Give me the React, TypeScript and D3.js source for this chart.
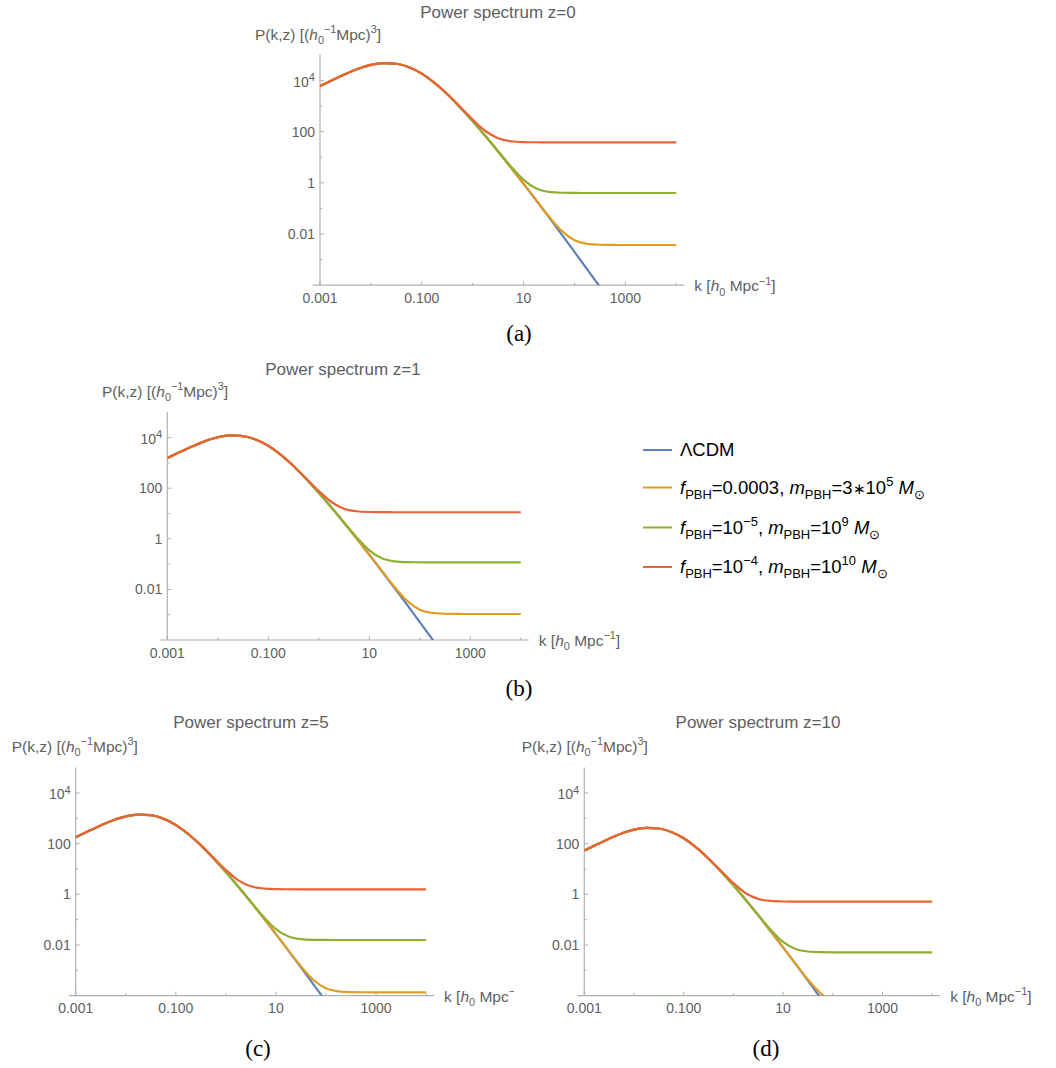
import React from 'react';
import * as d3 from 'd3';

// log10(k) sample points, k in h0 Mpc^-1
const logK = [-3, -2.75, -2.5, -2.25, -2, -1.75, -1.5, -1.25, -1, -0.75, -0.5, -0.25, 0, 0.25, 0.5, 0.75, 1, 1.25, 1.5, 1.75, 2, 2.25, 2.5, 2.75, 3, 3.25, 3.5, 3.75, 4];

// log10 P(k,z)
// z = 0
const lcdmA = [3.779, 4.019, 4.248, 4.452, 4.605, 4.676, 4.650, 4.516, 4.266, 3.905, 3.460, 2.956, 2.408, 1.828, 1.223, 0.598, -0.041, -0.693, -1.354, -2.023, -2.700, -3.382, -4.068, -4.760];
const orangeA = [3.779, 4.019, 4.248, 4.452, 4.605, 4.676, 4.650, 4.516, 4.266, 3.905, 3.460, 2.956, 2.408, 1.828, 1.223, 0.598, -0.039, -0.685, -1.319, -1.879, -2.243, -2.384, -2.420, -2.428, -2.430, -2.430, -2.430, -2.430, -2.430];
const greenA = [3.779, 4.019, 4.248, 4.452, 4.605, 4.676, 4.650, 4.516, 4.266, 3.905, 3.460, 2.956, 2.409, 1.831, 1.233, 0.640, 0.117, -0.220, -0.352, -0.388, -0.396, -0.398, -0.398, -0.398, -0.398, -0.398, -0.398, -0.398, -0.398];
const redA = [3.779, 4.019, 4.248, 4.452, 4.605, 4.676, 4.650, 4.516, 4.267, 3.907, 3.466, 2.974, 2.468, 2.023, 1.739, 1.624, 1.591, 1.583, 1.582, 1.581, 1.581, 1.581, 1.581, 1.581, 1.581, 1.581, 1.581, 1.581, 1.581];
// z = 1
const lcdmB = [3.189, 3.429, 3.658, 3.862, 4.015, 4.086, 4.060, 3.926, 3.676, 3.315, 2.870, 2.366, 1.818, 1.238, 0.633, 0.008, -0.631, -1.283, -1.944, -2.613, -3.290, -3.972, -4.658];
const orangeB = [3.189, 3.429, 3.658, 3.862, 4.015, 4.086, 4.060, 3.926, 3.676, 3.315, 2.870, 2.366, 1.818, 1.238, 0.633, 0.008, -0.629, -1.274, -1.905, -2.455, -2.801, -2.931, -2.963, -2.970, -2.972, -2.972, -2.972, -2.972, -2.972];
const greenB = [3.189, 3.429, 3.658, 3.862, 4.015, 4.086, 4.060, 3.926, 3.676, 3.315, 2.870, 2.366, 1.819, 1.241, 0.645, 0.056, -0.454, -0.770, -0.889, -0.920, -0.927, -0.929, -0.929, -0.929, -0.929, -0.929, -0.929, -0.929, -0.929];
const redB = [3.189, 3.429, 3.658, 3.862, 4.015, 4.086, 4.060, 3.926, 3.677, 3.317, 2.877, 2.387, 1.886, 1.455, 1.191, 1.088, 1.059, 1.052, 1.050, 1.050, 1.050, 1.050, 1.050, 1.050, 1.050, 1.050, 1.050, 1.050, 1.050];
// z = 5
const lcdmC = [2.249, 2.489, 2.718, 2.922, 3.075, 3.146, 3.120, 2.986, 2.736, 2.375, 1.930, 1.426, 0.878, 0.298, -0.307, -0.932, -1.571, -2.223, -2.884, -3.553, -4.230, -4.912];
const orangeC = [2.249, 2.489, 2.718, 2.922, 3.075, 3.146, 3.120, 2.986, 2.736, 2.375, 1.930, 1.426, 0.878, 0.298, -0.307, -0.932, -1.569, -2.213, -2.841, -3.381, -3.710, -3.829, -3.858, -3.864, -3.866, -3.866, -3.866, -3.866, -3.866];
const greenC = [2.249, 2.489, 2.718, 2.922, 3.075, 3.146, 3.120, 2.986, 2.736, 2.375, 1.930, 1.426, 0.879, 0.301, -0.293, -0.877, -1.371, -1.663, -1.768, -1.795, -1.801, -1.803, -1.803, -1.803, -1.803, -1.803, -1.803, -1.803, -1.803];
const redC = [2.249, 2.489, 2.718, 2.922, 3.075, 3.146, 3.120, 2.986, 2.737, 2.378, 1.938, 1.451, 0.960, 0.552, 0.315, 0.228, 0.204, 0.199, 0.197, 0.197, 0.197, 0.197, 0.197, 0.197, 0.197, 0.197, 0.197, 0.197, 0.197];
// z = 10
const lcdmD = [1.724, 1.964, 2.193, 2.397, 2.550, 2.621, 2.595, 2.461, 2.211, 1.850, 1.405, 0.901, 0.353, -0.227, -0.832, -1.457, -2.096, -2.748, -3.409, -4.078, -4.755];
const orangeD = [1.724, 1.964, 2.193, 2.397, 2.550, 2.621, 2.595, 2.461, 2.211, 1.850, 1.405, 0.901, 0.353, -0.227, -0.832, -1.457, -2.094, -2.737, -3.362, -3.892, -4.206, -4.316, -4.340, -4.350, -4.350, -4.350, -4.350, -4.350, -4.350];
const greenD = [1.724, 1.964, 2.193, 2.397, 2.550, 2.621, 2.595, 2.461, 2.211, 1.850, 1.405, 0.901, 0.354, -0.223, -0.817, -1.397, -1.880, -2.158, -2.256, -2.281, -2.287, -2.288, -2.288, -2.288, -2.288, -2.288, -2.288, -2.288, -2.288];
const redD = [1.724, 1.964, 2.193, 2.397, 2.550, 2.621, 2.595, 2.461, 2.212, 1.853, 1.414, 0.928, 0.442, 0.043, -0.182, -0.263, -0.285, -0.290, -0.292, -0.292, -0.292, -0.292, -0.292, -0.292, -0.292, -0.292, -0.292, -0.292, -0.292];

const xMajor = [0.001, 0.1, 10, 1000];
const xMajorLabels = ['0.001', '0.100', '10', '1000'];
const xMinor = [0.01, 1, 100, 10000];
const yMajor = [10000, 100, 1, 0.01];
const yMinor = [1000, 10, 0.1, 0.001];

const seriesColors = ['#5E81B5', '#E19C24', '#8FB032', '#EB6235'];

const SANS = '"Liberation Sans", Arial, sans-serif';
const TEXT = '#606060';
const AXIS = '#b0b0b0';

type Seg = { t: string; it?: boolean; sub?: boolean; sup?: boolean; small?: boolean };

function Rich({ x, y, segs, size, anchor = 'start', fill = TEXT, scr = 0.7 }: { x: number; y: number; segs: Seg[]; size: number; anchor?: string; fill?: string; scr?: number }) {
  let cur = 0;
  return (
    <text x={x} y={y} fontSize={size} fontFamily={SANS} fill={fill} textAnchor={anchor as any}>
      {segs.map((s, i) => {
        const target = s.sub ? size * 0.28 : s.sup ? -size * 0.42 : 0;
        const dy = target - cur;
        cur = target;
        const fs = s.sub || s.sup ? size * scr : s.small ? size * 0.8 : undefined;
        return (
          <tspan key={i} dy={dy} fontStyle={s.it ? 'italic' : undefined} fontSize={fs}>
            {s.t}
          </tspan>
        );
      })}
    </text>
  );
}

const yLabelSegs: Seg[] = [
  { t: 'P(k,z) [(' }, { t: 'h', it: true }, { t: '0', sub: true }, { t: '−1', sup: true }, { t: 'Mpc)' }, { t: '3', sup: true }, { t: ']' },
];
const xLabelSegs: Seg[] = [
  { t: 'k [' }, { t: 'h', it: true }, { t: '0', sub: true }, { t: ' Mpc' }, { t: '−1', sup: true }, { t: ']' },
];

type PanelCfg = {
  id: string;
  x0: number; pxX: number; yBottom: number; pxY: number;
  title: string; titleX: number; titleY: number;
  yLabX: number; yLabY: number;
  caption: string; capX: number; capY: number;
  series: (number | null)[][];
  clipRight?: number;
};

function Panel({ cfg }: { cfg: PanelCfg }) {
  const xEnd = cfg.x0 + 7 * cfg.pxX;
  const yTop = cfg.yBottom - 9 * cfg.pxY;
  const x = d3.scaleLog().domain([1e-3, 1e4]).range([cfg.x0, xEnd]);
  const y = d3.scaleLog().domain([1e-4, 1e5]).range([cfg.yBottom, yTop]);
  const line = d3
    .line<number | null>()
    .defined((d) => d != null)
    .x((_, i) => x(Math.pow(10, logK[i])))
    .y((d) => y(Math.pow(10, d as number)))
    .curve(d3.curveMonotoneX);
  const clipId = 'clip-' + cfg.id;
  const outerId = 'outer-' + cfg.id;
  const yAxisLabel = (v: number, i: number) => {
    if (v === 10000) return <Rich key={i} x={cfg.x0 - 5} y={y(v) + 6.5} size={14} scr={0.8} anchor="end" segs={[{ t: '10' }, { t: '4', sup: true }]} />;
    const s = v === 100 ? '100' : v === 1 ? '1' : '0.01';
    return (
      <text key={i} x={cfg.x0 - 5} y={y(v) + 5} fontSize={14} fontFamily={SANS} fill={TEXT} textAnchor="end">{s}</text>
    );
  };
  return (
    <g clipPath={cfg.clipRight ? `url(#${outerId})` : undefined}>
      <defs>
        <clipPath id={clipId}>
          <rect x={cfg.x0} y={yTop} width={xEnd - cfg.x0 + 2} height={cfg.yBottom - yTop} />
        </clipPath>
        {cfg.clipRight ? (
          <clipPath id={outerId}>
            <rect x={0} y={0} width={cfg.clipRight} height={1068} />
          </clipPath>
        ) : null}
      </defs>
      <text x={cfg.titleX} y={cfg.titleY} fontSize={17} fontFamily={SANS} fill={TEXT} textAnchor="middle">{cfg.title}</text>
      <Rich x={cfg.yLabX} y={cfg.yLabY} size={15.5} segs={yLabelSegs} />
      <Rich x={xEnd + 18} y={cfg.yBottom + 6} size={15.5} segs={xLabelSegs} />
      <line x1={cfg.x0 - 7} x2={xEnd + 8} y1={cfg.yBottom} y2={cfg.yBottom} stroke={AXIS} strokeWidth={1.2} />
      <line x1={cfg.x0} x2={cfg.x0} y1={cfg.yBottom} y2={yTop} stroke={AXIS} strokeWidth={1.2} />
      {xMajor.map((v, i) => (
        <line key={'xm' + i} x1={x(v)} x2={x(v)} y1={cfg.yBottom} y2={cfg.yBottom - 4} stroke={AXIS} strokeWidth={1} />
      ))}
      {xMinor.map((v, i) => (
        <line key={'xn' + i} x1={x(v)} x2={x(v)} y1={cfg.yBottom} y2={cfg.yBottom - 2.5} stroke={AXIS} strokeWidth={1} />
      ))}
      {yMajor.map((v, i) => (
        <line key={'ym' + i} x1={cfg.x0} x2={cfg.x0 + 4} y1={y(v)} y2={y(v)} stroke={AXIS} strokeWidth={1} />
      ))}
      {yMinor.map((v, i) => (
        <line key={'yn' + i} x1={cfg.x0} x2={cfg.x0 + 2.5} y1={y(v)} y2={y(v)} stroke={AXIS} strokeWidth={1} />
      ))}
      {xMajor.map((v, i) => (
        <text key={'xl' + i} x={x(v)} y={cfg.yBottom + 17.5} fontSize={14} fontFamily={SANS} fill={TEXT} textAnchor="middle">{xMajorLabels[i]}</text>
      ))}
      {yMajor.map(yAxisLabel)}
      <g clipPath={`url(#${clipId})`}>
        {cfg.series.map((s, i) => (
          <path key={i} d={line(s) || ''} fill="none" stroke={seriesColors[i]} strokeWidth={2.2} strokeLinejoin="round" />
        ))}
      </g>
      <text x={cfg.capX} y={cfg.capY} fontSize={23} fontFamily='"Liberation Serif", "Times New Roman", serif' fill="#000" textAnchor="middle">{cfg.caption}</text>
    </g>
  );
}

const legendItems: Seg[][] = [
  [{ t: 'ΛCDM' }],
  [{ t: 'f', it: true }, { t: 'PBH', sub: true }, { t: '=0.0003, ' }, { t: 'm', it: true }, { t: 'PBH', sub: true }, { t: '=3' }, { t: '∗', small: true }, { t: '10' }, { t: '5', sup: true }, { t: ' ' }, { t: 'M', it: true }, { t: '⊙', sub: true }],
  [{ t: 'f', it: true }, { t: 'PBH', sub: true }, { t: '=10' }, { t: '−5', sup: true }, { t: ', ' }, { t: 'm', it: true }, { t: 'PBH', sub: true }, { t: '=10' }, { t: '9', sup: true }, { t: ' ' }, { t: 'M', it: true }, { t: '⊙', sub: true }],
  [{ t: 'f', it: true }, { t: 'PBH', sub: true }, { t: '=10' }, { t: '−4', sup: true }, { t: ', ' }, { t: 'm', it: true }, { t: 'PBH', sub: true }, { t: '=10' }, { t: '10', sup: true }, { t: ' ' }, { t: 'M', it: true }, { t: '⊙', sub: true }],
];
const legendRowY = [450, 487.5, 527.5, 567];

const panels: PanelCfg[] = [
  { id: 'a', x0: 320, pxX: 50.9, yBottom: 285.2, pxY: 25.6, title: 'Power spectrum z=0', titleX: 498, titleY: 18, yLabX: 255, yLabY: 40, caption: '(a)', capX: 519, capY: 341, series: [lcdmA, orangeA, greenA, redA] },
  { id: 'b', x0: 167.3, pxX: 50.5, yBottom: 640, pxY: 25.3, title: 'Power spectrum z=1', titleX: 343, titleY: 375, yLabX: 102, yLabY: 397, caption: '(b)', capX: 519, capY: 696, series: [lcdmB, orangeB, greenB, redB] },
  { id: 'c', x0: 75.7, pxX: 50.05, yBottom: 995.7, pxY: 25.35, title: 'Power spectrum z=5', titleX: 251, titleY: 728, yLabX: 11.7, yLabY: 752, caption: '(c)', capX: 258, capY: 1056, series: [lcdmC, orangeC, greenC, redC], clipRight: 514 },
  { id: 'd', x0: 584.3, pxX: 49.7, yBottom: 995.7, pxY: 25.35, title: 'Power spectrum z=10', titleX: 758, titleY: 728, yLabX: 521.7, yLabY: 752, caption: '(d)', capX: 766, capY: 1056, series: [lcdmD, orangeD, greenD, redD] },
];

export default function App() {
  return (
    <svg width={1056} height={1068} style={{ position: 'absolute', left: 0, top: 0, background: '#fff' }}>
      <rect x={0} y={0} width={1056} height={1068} fill="#fff" />
      {panels.map((p) => (
        <Panel key={p.id} cfg={p} />
      ))}
      {legendItems.map((segs, i) => (
        <g key={i}>
          <line x1={643} x2={672} y1={legendRowY[i]} y2={legendRowY[i]} stroke={seriesColors[i]} strokeWidth={2} />
          <Rich x={680} y={legendRowY[i] + 6} size={18.5} segs={segs} fill="#000" />
        </g>
      ))}
    </svg>
  );
}
